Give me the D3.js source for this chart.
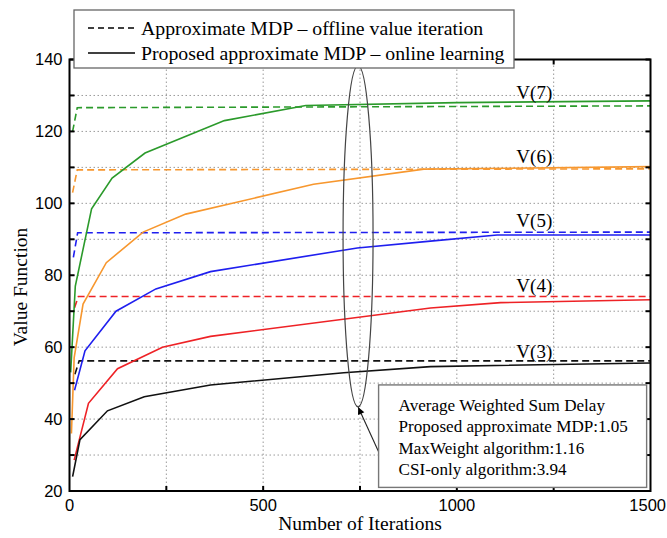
<!DOCTYPE html>
<html>
<head>
<meta charset="utf-8">
<script src="https://cdn.jsdelivr.net/npm/d3@7"></script>
<style>
  body { margin: 0; background: #fff; }
  svg { display: block; }
</style>
</head>
<body>
<svg id="chart" width="667" height="538"></svg>
<script>
// offline value iteration (dashed) and online learning (solid), [iteration, value]
const v7Offline = [[8, 120], [20, 126.6], [1500, 127.1]];
const v6Offline = [[8, 103], [20, 109.3], [1500, 109.6]];
const v5Offline = [[10, 85], [21, 91.8], [1500, 92.0]];
const v4Offline = [[13, 71], [23, 74.1], [1500, 74.1]];
const v3Offline = [[14, 52.5], [25, 56.2], [1500, 56.2]];

const v7Online = [[3, 53], [15, 77], [57, 98.5], [110, 107], [195, 114], [400, 123], [610, 127.2], [1000, 128], [1500, 128.5]];
const v6Online = [[5, 36], [12, 57], [35, 72], [95, 83.5], [190, 92], [300, 97], [630, 105.3], [915, 109.5], [1500, 110.2]];
const v5Online = [[13, 48], [40, 59], [120, 70], [223, 76.2], [364, 81], [743, 87.6], [932, 89.5], [1104, 91.2], [1500, 91.2]];
const v4Online = [[12, 28.6], [49, 44.4], [124, 54], [240, 60], [364, 63], [932, 70.9], [1113, 72.4], [1500, 73.2]];
const v3Online = [[8, 24], [27, 34.3], [98, 42.3], [193, 46.2], [364, 49.5], [708, 52.9], [932, 54.6], [1500, 55.6]];

const seriesNames = ['V(7)', 'V(6)', 'V(5)', 'V(4)', 'V(3)'];
const seriesColors = ['#2b9a2b', '#f7972e', '#1f1fef', '#ee2226', '#111111'];
const offline = [v7Offline, v6Offline, v5Offline, v4Offline, v3Offline];
const online = [v7Online, v6Online, v5Online, v4Online, v3Online];
const labelY = [129, 111.1, 93.3, 75.4, 57.0];
const labelX = 1200;

const legendText = ['Approximate MDP \u2013 offline value iteration', 'Proposed approximate MDP \u2013 online learning'];
const noteText = ['Average Weighted Sum Delay', 'Proposed approximate MDP:1.05', 'MaxWeight algorithm:1.16', 'CSI-only algorithm:3.94'];

const xTicks = [0, 500, 1000, 1500];
const xGrid = [250, 500, 750, 1000, 1250];
const yTicks = [20, 40, 60, 80, 100, 120, 140];
const yMinor = [30, 50, 70, 90, 110, 130];

const svg = d3.select('#chart');
const x = d3.scaleLinear().domain([0, 1500]).range([69.5, 650.5]);
const y = d3.scaleLinear().domain([20, 140]).range([491, 59.5]);

const serif = '"Liberation Serif", "Times New Roman", serif';
const sans = '"Liberation Sans", Arial, sans-serif';

// grid
const grid = svg.append('g').attr('stroke', '#9a9a9a').attr('stroke-width', 1).attr('stroke-dasharray', '1.5,2.5');
grid.selectAll('.gx').data(xGrid).enter().append('line')
    .attr('x1', d => x(d)).attr('x2', d => x(d)).attr('y1', y(20)).attr('y2', y(140));
grid.selectAll('.gy').data(yTicks.concat(yMinor).filter(d => d > 20 && d < 140)).enter().append('line')
    .attr('x1', x(0)).attr('x2', x(1500)).attr('y1', d => y(d)).attr('y2', d => y(d));

// curves
const line = d3.line().x(d => x(d[0])).y(d => y(d[1]));
offline.forEach((s, i) => {
    svg.append('path').datum(s).attr('d', line)
        .attr('fill', 'none').attr('stroke', seriesColors[i]).attr('stroke-width', 1.6)
        .attr('stroke-dasharray', '7,4');
});
online.forEach((s, i) => {
    svg.append('path').datum(s).attr('d', line)
        .attr('fill', 'none').attr('stroke', seriesColors[i]).attr('stroke-width', 1.6);
});

// V(k) labels
svg.selectAll('.vlab').data(seriesNames).enter().append('text')
    .attr('x', x(labelX)).attr('y', (d, i) => y(labelY[i]))
    .attr('text-anchor', 'middle').attr('font-family', serif).attr('font-size', 19)
    .text(d => d);

// frame and ticks
const frame = svg.append('g').attr('stroke', '#000');
frame.append('rect').attr('x', x(0)).attr('y', y(140))
    .attr('width', x(1500) - x(0)).attr('height', y(20) - y(140))
    .attr('fill', 'none').attr('stroke-width', 2);
const yAll = yTicks.concat(yMinor);
frame.selectAll('.tl').data(yAll).enter().append('line')
    .attr('x1', x(0)).attr('x2', x(0) + 5).attr('y1', d => y(d)).attr('y2', d => y(d)).attr('stroke-width', 2);
frame.selectAll('.tr').data(yAll).enter().append('line')
    .attr('x1', x(1500)).attr('x2', x(1500) - 5).attr('y1', d => y(d)).attr('y2', d => y(d)).attr('stroke-width', 2);
frame.selectAll('.tb').data(xGrid).enter().append('line')
    .attr('x1', d => x(d)).attr('x2', d => x(d)).attr('y1', y(20)).attr('y2', y(20) - 5).attr('stroke-width', 2);
frame.selectAll('.tt').data(xGrid).enter().append('line')
    .attr('x1', d => x(d)).attr('x2', d => x(d)).attr('y1', y(140)).attr('y2', y(140) + 5).attr('stroke-width', 2);

// tick labels
svg.selectAll('.ylab').data(yTicks).enter().append('text')
    .attr('x', x(0) - 7).attr('y', d => y(d)).attr('dy', '0.36em')
    .attr('text-anchor', 'end').attr('font-family', sans).attr('font-size', 16.5)
    .text(d => d);
// last label sits at the window edge, so keep it inside
svg.selectAll('.xlab').data(xTicks).enter().append('text')
    .attr('x', d => d === 1500 ? 666 : x(d)).attr('y', 511)
    .attr('text-anchor', d => d === 1500 ? 'end' : 'middle')
    .attr('font-family', sans).attr('font-size', 16.5)
    .text(d => d);

// axis titles
svg.append('text').attr('x', x(750)).attr('y', 530)
    .attr('text-anchor', 'middle').attr('font-family', serif).attr('font-size', 19.5)
    .text('Number of Iterations');
svg.append('text').attr('transform', 'translate(27,287) rotate(-90)')
    .attr('text-anchor', 'middle').attr('font-family', serif).attr('font-size', 19.5)
    .text('Value Function');

// ellipse + arrow to note box
svg.append('ellipse').attr('cx', x(745)).attr('cy', (y(138.3) + y(43.4)) / 2)
    .attr('rx', 15).attr('ry', (y(43.4) - y(138.3)) / 2)
    .attr('fill', 'none').attr('stroke', '#444').attr('stroke-width', 1.2);

svg.append('defs').append('marker').attr('id', 'ah')
    .attr('viewBox', '0 0 10 10').attr('refX', 10).attr('refY', 5)
    .attr('markerWidth', 9).attr('markerHeight', 7).attr('markerUnits', 'userSpaceOnUse')
    .attr('orient', 'auto')
    .append('path').attr('d', 'M0,0L10,5L0,10z').attr('fill', '#000');
svg.append('line').attr('x1', x(798)).attr('y1', y(30.9)).attr('x2', x(745.5)).attr('y2', y(43.3))
    .attr('stroke', '#222').attr('stroke-width', 1.1).attr('marker-end', 'url(#ah)');

// note box
svg.append('rect').attr('x', x(798)).attr('y', y(49.5))
    .attr('width', x(1490) - x(798)).attr('height', y(21) - y(49.5))
    .attr('fill', '#fff').attr('stroke', '#777').attr('stroke-width', 1.4);
svg.selectAll('.note').data(noteText).enter().append('text')
    .attr('x', x(798) + 20).attr('y', (d, i) => 411 + i * 21.3)
    .attr('font-family', serif).attr('font-size', 17.1)
    .text(d => d);

// legend
const lg = svg.append('g');
lg.append('rect').attr('x', 74).attr('y', 10).attr('width', 440).attr('height', 58)
    .attr('fill', '#fff').attr('stroke', '#666').attr('stroke-width', 1.3);
legendText.forEach((t, i) => {
    lg.append('line').attr('x1', 88).attr('x2', 135).attr('y1', 28 + i * 25).attr('y2', 28 + i * 25)
        .attr('stroke', '#000').attr('stroke-width', 1.3)
        .attr('stroke-dasharray', i === 0 ? '6,4' : null);
    lg.append('text').attr('x', 141).attr('y', 34.5 + i * 25)
        .attr('font-family', serif).attr('font-size', 19.8)
        .text(t);
});
</script>
</body>
</html>
